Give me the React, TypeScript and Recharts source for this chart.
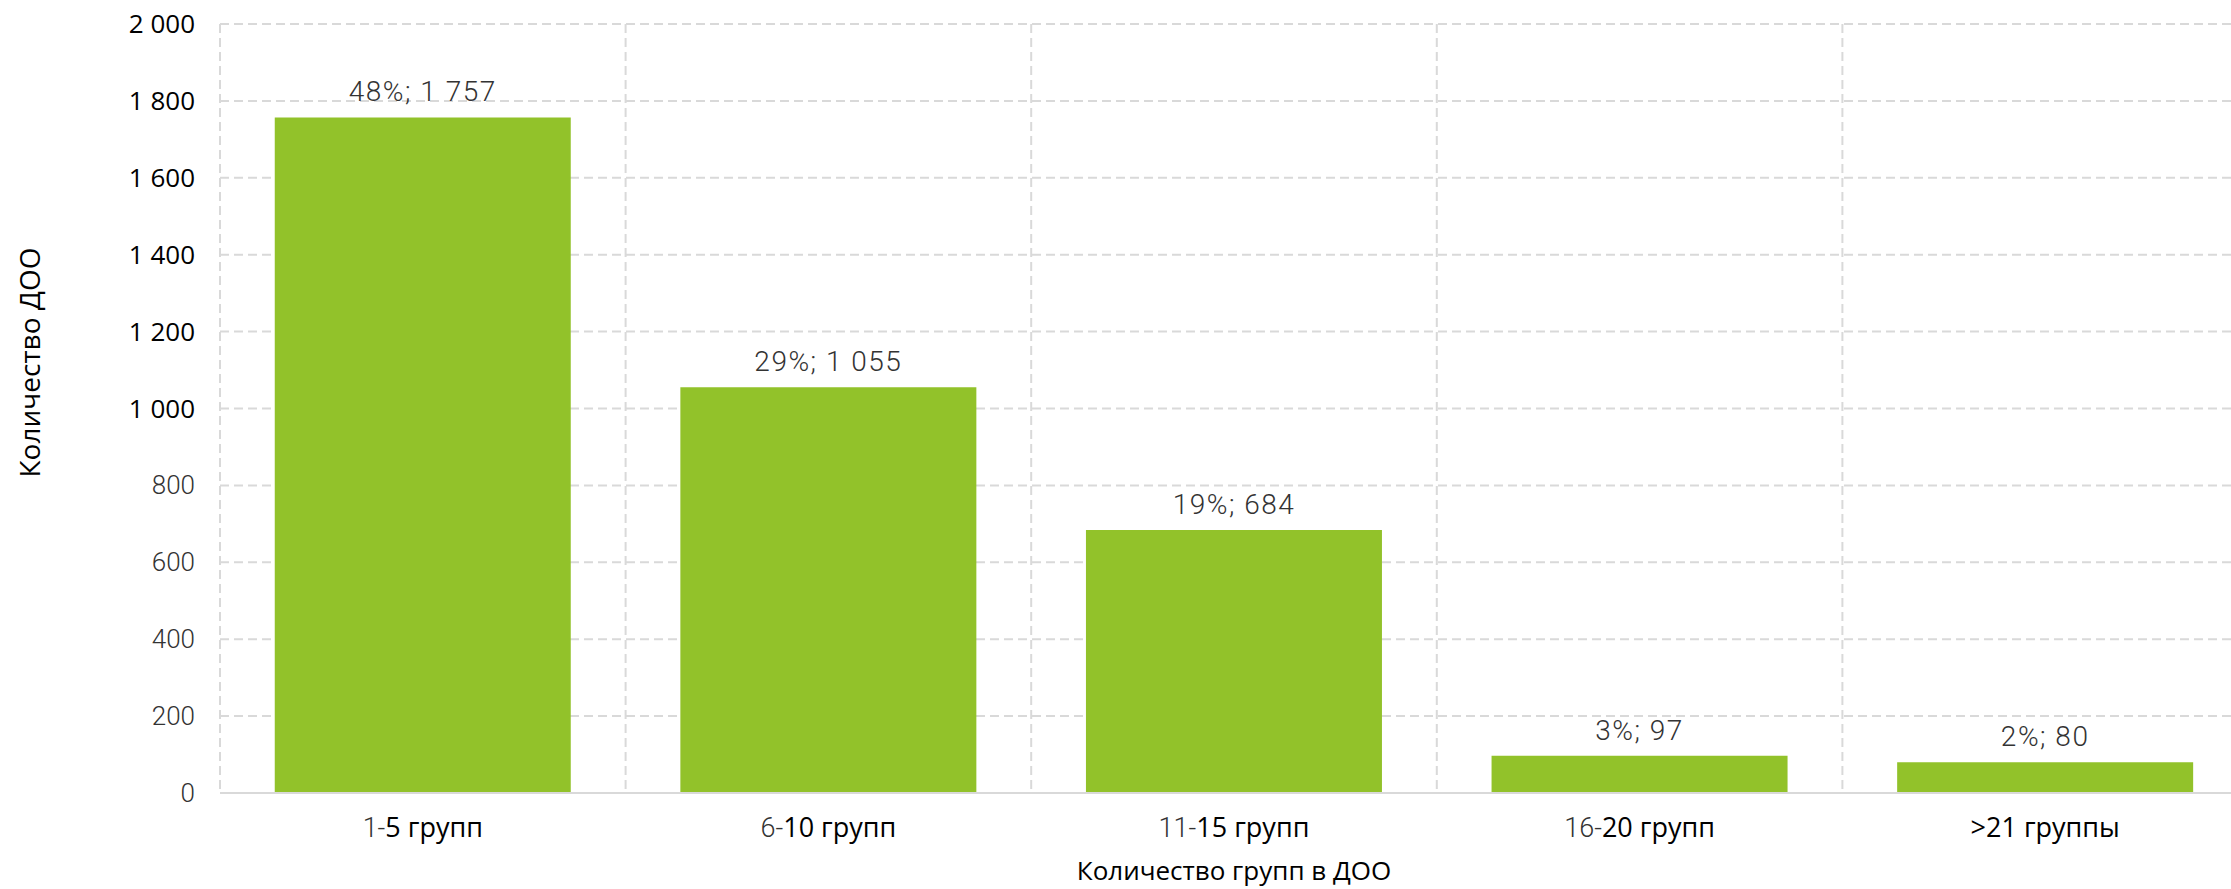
import { Bar, BarChart, CartesianGrid, LabelList, XAxis, YAxis } from "recharts";

const categories = ["1-5 групп", "6-10 групп", "11-15 групп", "16-20 групп", ">21 группы"];
const counts = [1757, 1055, 684, 97, 80];
const shares = [48, 29, 19, 3, 2];
const yTicks = [0, 200, 400, 600, 800, 1000, 1200, 1400, 1600, 1800, 2000];

const FONT = "'Open Sans', 'Noto Sans', sans-serif";
const LIGHT = "Roboto, 'Open Sans', sans-serif";
const GREEN = "#92c22a";
const GRID = "#d9d9d9";

const fmt = (v: number) => String(v).replace(/\B(?=(\d{3})+(?!\d))/g, " ");

const data = categories.map((name, i) => ({ name, value: counts[i], share: shares[i] }));

function YTick({ x, y, payload }: any) {
  const big = payload.value >= 1000;
  return (
    <text
      x={x}
      y={y}
      dy={9}
      textAnchor="end"
      fontFamily={big ? FONT : LIGHT}
      fontSize={26}
      fontWeight={big ? 400 : 300}
      fill={big ? "#000" : "#333"}
    >
      {fmt(payload.value)}
    </text>
  );
}

function XTick({ x, y, payload }: any) {
  const s: string = payload.value;
  const cut = s.indexOf("-") + 1;
  return (
    <text x={x} y={y} dy={36} textAnchor="middle" fontSize={27} fill="#000">
      <tspan fontFamily={LIGHT} fontWeight={300} fill="#333">{s.slice(0, cut)}</tspan>
      <tspan fontFamily={FONT} fontWeight={400}>{s.slice(cut)}</tspan>
    </text>
  );
}

export default function App() {
  return (
    <div style={{ position: "absolute", left: 0, top: 0, width: 2231, height: 889, overflow: "hidden", background: "#fff" }}>
      <BarChart
        width={2260}
        height={889}
        data={data}
        margin={{ top: 24, right: 12, left: 0, bottom: 36 }}
        barCategoryGap="13.5%"
      >
        <CartesianGrid
          stroke={GRID}
          strokeWidth={2}
          strokeDasharray="9 5"
          verticalCoordinatesGenerator={({ offset }: any) =>
            categories.map((_, i) => offset.left + (i * offset.width) / categories.length)
          }
        />
        <XAxis
          dataKey="name"
          height={60}
          tick={<XTick />}
          tickLine={false}
          axisLine={{ stroke: GRID, strokeWidth: 2 }}
          label={({ viewBox }: any) => (
            <text
              x={viewBox.x + viewBox.width / 2}
              y={880}
              textAnchor="middle"
              fontFamily={FONT}
              fontSize={26}
              fill="#000"
            >
              Количество групп в ДОО
            </text>
          )}
        />
        <YAxis
          width={220}
          domain={[0, 2000]}
          ticks={yTicks}
          interval={0}
          tick={<YTick />}
          tickLine={false}
          axisLine={false}
          tickMargin={19}
          label={({ viewBox }: any) => {
            const cy = viewBox.y + viewBox.height / 2 - 46;
            return (
              <text
                x={40}
                y={cy}
                transform={`rotate(-90, 40, ${cy})`}
                textAnchor="middle"
                fontFamily={FONT}
                fontSize={28}
                fill="#000"
              >
                Количество ДОО
              </text>
            );
          }}
        />
        <Bar dataKey="value" fill={GREEN} isAnimationActive={false}>
          <LabelList
            dataKey="value"
            position="top"
            offset={16}
            content={(p: any) => {
              const d = data[p.index];
              return (
                <text
                  x={p.x + p.width / 2}
                  y={p.y - 16}
                  textAnchor="middle"
                  fontFamily={LIGHT}
                  fontSize={28}
                  fontWeight={300}
                  letterSpacing={1.5}
                  fill="#333"
                >
                  {`${d.share}%; ${fmt(d.value)}`}
                </text>
              );
            }}
          />
        </Bar>
      </BarChart>
    </div>
  );
}
